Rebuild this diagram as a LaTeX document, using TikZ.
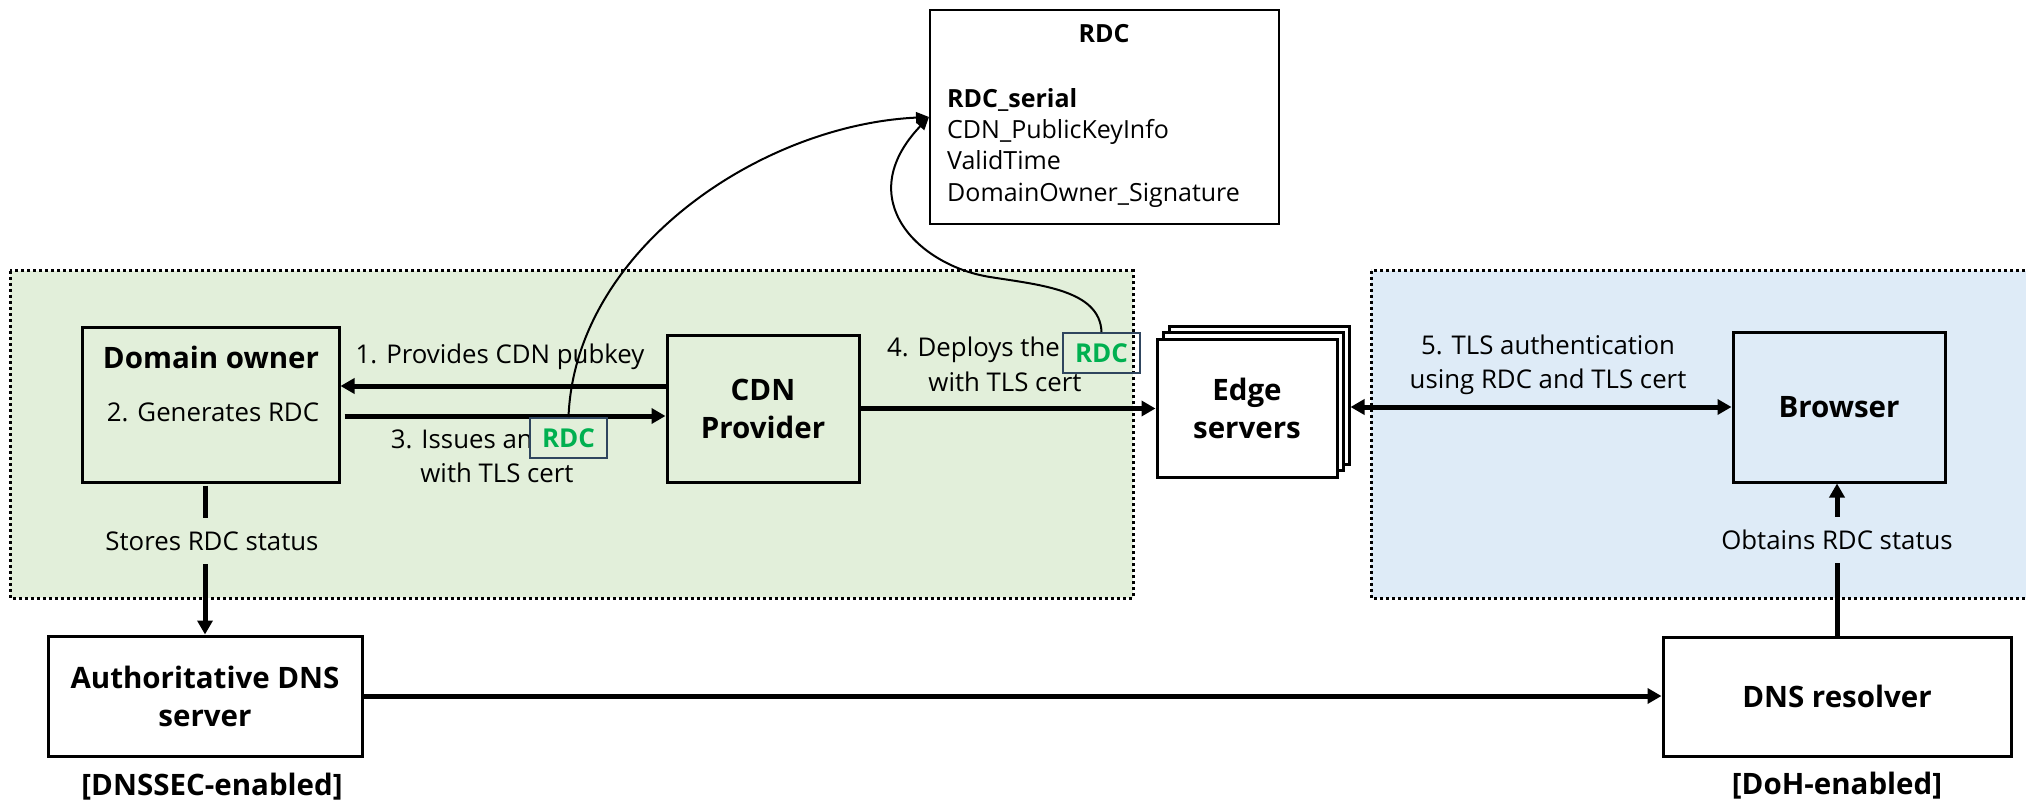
\documentclass[tikz,border=0pt]{standalone}
\usepackage{fontspec}
\setmainfont{Open Sans}
\usetikzlibrary{arrows.meta}
\definecolor{grpgreen}{RGB}{226,239,218}
\definecolor{grpblue}{RGB}{222,235,247}
\definecolor{rdcgreen}{RGB}{0,176,80}
\definecolor{tagedge}{RGB}{47,69,94}

\begin{document}
\begin{tikzpicture}[x=1pt,y=-1pt,
  every node/.style={inner sep=0pt, font=\fontsize{25.8}{32}\selectfont},
  fieldtxt/.style={font=\fontsize{25}{30}\selectfont},
  region/.style={line width=3pt, dash pattern=on 3pt off 3pt},
  box/.style={draw, line width=3pt, align=center, font=\fontsize{29.5}{38}\selectfont\bfseries},
  boldtxt/.style={font=\fontsize{29.5}{34}\selectfont\bfseries},
  flow/.style={line width=5pt, -{Triangle[length=14pt,width=15pt]}},
  twoway/.style={line width=5pt, {Triangle[length=14pt,width=15pt]}-{Triangle[length=14pt,width=15pt]}},
  plain/.style={line width=5pt},
  link/.style={line width=2pt, -{Triangle[length=13pt,width=11pt]}},
  tag/.style={draw=tagedge, line width=2pt, text=rdcgreen, font=\fontsize{26}{30}\selectfont\bfseries, minimum width=77pt, minimum height=40pt},
]
\clip (0,0) rectangle (2026,802);

% trust domains
\draw[region, fill=grpgreen] (10,271) rectangle (1133,598);
\draw[region, fill=grpblue] (1371,271) rectangle (2040,598);

% RDC structure
\node[draw, line width=2pt, minimum width=349pt, minimum height=214pt] (rdc) at (1104.5,117) {};
\node[font=\fontsize{25}{30}\selectfont\bfseries, anchor=base] (rdct) at (1104,43) {RDC};
\node[font=\fontsize{25}{30}\selectfont\bfseries, anchor=base west] (f1) at (947,108) {RDC\_serial};
\node[fieldtxt, anchor=base west] (f2) at (947,139) {CDN\_PublicKeyInfo};
\node[fieldtxt, anchor=base west] (f3) at (947,170) {ValidTime};
\node[fieldtxt, anchor=base west] (f4) at (947,202) {DomainOwner\_Signature};

% parties
\node[box, fill=grpgreen, minimum width=257pt, minimum height=155pt] (dom) at (210.5,404.5) {};
\node[boldtxt] (domt) at (211,357) {Domain owner};
\node (gen) at (213,412) {2. Generates RDC};
\node[box, fill=grpgreen, minimum width=192pt, minimum height=147pt] (cdn) at (763,408.5) {CDN\\Provider};
\node[box, fill=white, minimum width=180pt, minimum height=138pt] (edgeB) at (1259,395) {};
\node[box, fill=white, minimum width=180pt, minimum height=138pt] (edgeM) at (1253,401.5) {};
\node[box, fill=white, minimum width=180pt, minimum height=138pt] (edgeF) at (1247,408) {Edge\\servers};
\node[box, fill=grpblue, minimum width=212pt, minimum height=150pt] (brw) at (1839,407) {Browser};
\node[box, fill=white, minimum width=314pt, minimum height=120pt] (auth) at (205,696) {Authoritative DNS\\server};
\node[box, fill=white, minimum width=348pt, minimum height=119pt] (res) at (1837,696.5) {DNS resolver};
\node[boldtxt] (dnssec) at (212,787) {[DNSSEC-enabled]};
\node[boldtxt] (doh) at (1837,786) {[DoH-enabled]};

% message flows
\path ([yshift=22.5pt]cdn.west) coordinate (p1);
\draw[flow] (p1) -- (p1 -| dom.east);
\path ([yshift=-7.5pt]cdn.west) coordinate (p3);
\draw[flow, shorten <=4pt] (p3 -| dom.east) -- (p3);
\draw[flow] (cdn.east) -- (cdn.east -| edgeF.west);
\draw[twoway] (edgeB.east |- brw.west) -- (brw.west);
\draw[flow] (auth.east) -- (auth.east -| res.west);

% DNS status links
\node[fill=grpgreen, minimum height=46pt] (st) at (212,541) {Stores RDC status};
\draw[plain, shorten <=2pt] (auth.north |- dom.south) -- (auth.north |- st.north);
\draw[flow] (auth.north |- st.south) -- (auth.north);
\node[fill=grpblue, minimum height=46pt] (ob) at (1837,540) {Obtains RDC status};
\draw[plain] (res.north) -- (res.north |- ob.south);
\draw[flow] (res.north |- ob.north) -- (res.north |- brw.south);

% flow labels
\node (l1) at (500,357) {1. Provides CDN pubkey};
\node[anchor=east] (l3a) at (533,439) {3. Issues an};
\node[tag] (tag3) at (568.5,438) {RDC};
\node (l3b) at (497,473) {with TLS cert};
\node[anchor=east] (l4a) at (1060,350) {4. Deploys the};
\node[tag] (tag4) at (1101.5,353) {RDC};
\node (l4b) at (1005,382) {with TLS cert};
\node[align=center, font=\fontsize{25.8}{34}\selectfont] (l5) at (1548,365) {5. TLS authentication\\using RDC and TLS cert};

% the RDC travels with the certificate
\draw[link] (tag3.north) .. controls (575,250) and (760,125) .. (rdc.west);
\draw[link] (tag4.north) .. controls (1100,290) and (1040,285) .. (990,277)
  .. controls (920,266) and (850,200) .. (rdc.west);
\end{tikzpicture}
\end{document}
